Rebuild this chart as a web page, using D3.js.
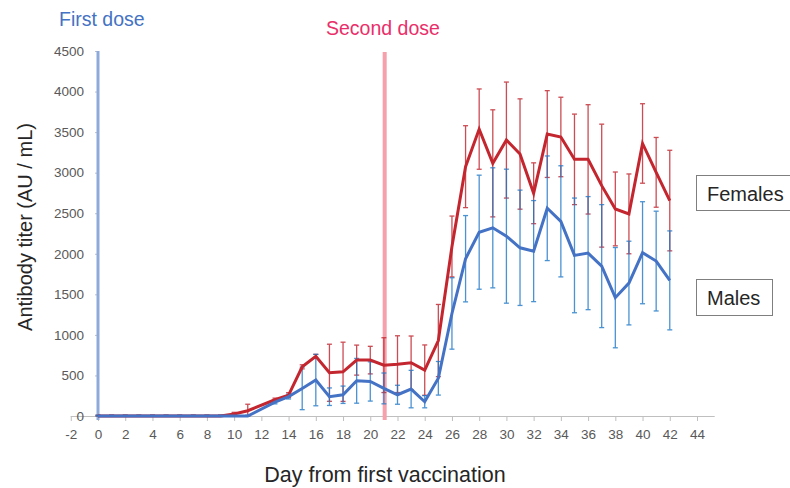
<!DOCTYPE html>
<html>
<head>
<meta charset="utf-8">
<script src="https://cdn.jsdelivr.net/npm/d3@7"></script>
<style>
	body { margin: 0; background: #fff; }
	svg { font-family: "Liberation Sans", Arial, sans-serif; display: block; }
</style>
</head>
<body>
<div id="chart"></div>
<script>
'use strict';

// Days sampled after the first vaccination
var days = [0, 1, 2, 3, 4, 5, 6, 7, 8, 9, 10, 11, 13, 14, 15, 16, 17, 18, 19, 20,
	21, 22, 23, 24, 25, 26, 27, 28, 29, 30, 31, 32, 33, 34, 35, 36, 37, 38, 39, 40, 41, 42];

// Mean antibody titer (AU / mL) and error bar size, females
var female_mean = [0, 0, 0, 0, 0, 0, 0, 0, 0, 0, 25, 65, 200, 258, 606, 735, 533, 545, 689, 689,
	627, 639, 656, 566, 930, 2090, 3074, 3537, 3115, 3402, 3230, 2746, 3476, 3440, 3164, 3164,
	2840, 2553, 2492, 3360, 3004, 2656];
var female_err = [10, 10, 10, 10, 10, 10, 10, 10, 10, 10, 20, 80, 20, 30, 25, 25, 352, 365, 185, 170,
	338, 350, 330, 310, 445, 375, 505, 495, 660, 715, 680, 375, 535, 490, 558, 674,
	758, 455, 492, 490, 430, 620];

// Males
var male_mean = [0, 0, 0, 0, 0, 0, 0, 0, 0, 0, 0, 0, 170, 240, 340, 443, 238, 262, 434, 426,
	340, 262, 332, 176, 465, 1264, 1939, 2266, 2320, 2217, 2074, 2033, 2561, 2400, 1980, 2008,
	1848, 1459, 1639, 2013, 1910, 1672];
var male_err = [10, 10, 10, 10, 10, 10, 10, 10, 10, 10, 10, 10, 20, 30, 262, 317, 108, 107, 276, 242,
	190, 117, 231, 75, 207, 440, 532, 703, 740, 826, 711, 623, 645, 685, 707, 697,
	758, 618, 516, 629, 615, 610];

var x_ticks = d3.range(-2, 45, 2);
var y_ticks = d3.range(0, 4501, 500);
var first_dose_day = 0;
var second_dose_day = 21;

var width = 790;
var height = 488;

var x_scale = d3.scaleLinear().domain([0, 44]).range([98, 697]);
var y_scale = d3.scaleLinear().domain([0, 4500]).range([416, 51]);

// plain numbers with a hyphen minus, like the original
var fmt = function(d) { return String(d); };

var svg = d3.select("#chart").append("svg")
	.attr("width", width)
	.attr("height", height);

function make_series(means, errs) {
	return days.map(function(d, i) {
		return { day: d, v: means[i], e: errs[i] };
	});
}

var females = make_series(female_mean, female_err);
var males = make_series(male_mean, male_err);

// x axis: line from -2 to a bit past 44, ticks every 2 days
var x_axis = svg.append("g")
	.attr("transform", "translate(0," + y_scale(0) + ")")
	.call(d3.axisBottom(x_scale).tickValues(x_ticks).tickFormat(fmt).tickSize(5).tickPadding(8));
x_axis.select(".domain").remove();
x_axis.selectAll(".tick line").attr("stroke", "#bfbfbf");
x_axis.selectAll(".tick text")
	.attr("fill", "#595959")
	.style("font-size", "13.5px")
	.style("font-family", "'Liberation Sans', Arial, sans-serif");
svg.append("line")
	.attr("x1", x_scale(-2))
	.attr("x2", x_scale(45.3))
	.attr("y1", y_scale(0) + 0.5)
	.attr("y2", y_scale(0) + 0.5)
	.style("stroke", "#bfbfbf")
	.style("stroke-width", 1);

var y_axis = svg.append("g")
	.attr("transform", "translate(" + x_scale(0) + ",0)")
	.call(d3.axisLeft(y_scale).tickValues(y_ticks).tickFormat(fmt).tickSize(3).tickPadding(11));
y_axis.select(".domain").remove();
y_axis.selectAll(".tick line").attr("stroke", "#bfbfbf");
y_axis.selectAll(".tick text")
	.attr("fill", "#595959")
	.style("font-size", "13.5px")
	.style("font-family", "'Liberation Sans', Arial, sans-serif");

// dose markers
svg.append("line")
	.attr("x1", x_scale(first_dose_day))
	.attr("x2", x_scale(first_dose_day))
	.attr("y1", y_scale(4500))
	.attr("y2", y_scale(0) + 4)
	.style("stroke", "#8eaadb")
	.style("stroke-width", 3);

svg.append("line")
	.attr("x1", x_scale(second_dose_day) + 0.8)
	.attr("x2", x_scale(second_dose_day) + 0.8)
	.attr("y1", y_scale(4500) + 1)
	.attr("y2", y_scale(0) + 4)
	.style("stroke", "#f5a0aa")
	.style("stroke-width", 4);

svg.append("text")
	.attr("x", 59)
	.attr("y", 26)
	.style("font-size", "19.5px")
	.style("fill", "#4472c4")
	.text("First dose");

svg.append("text")
	.attr("x", 326)
	.attr("y", 35)
	.style("font-size", "19.5px")
	.style("fill", "#ea2e6a")
	.text("Second dose");

function draw_error_bars(data, color) {
	var g = svg.append("g")
		.style("stroke", color)
		.style("stroke-width", 1.3)
		.style("opacity", 0.8);

	data.forEach(function(d) {
		var cx = x_scale(d.day);
		var top = y_scale(d.v + d.e);
		var bottom = y_scale(Math.max(0, d.v - d.e));

		g.append("line")
			.attr("x1", cx).attr("x2", cx)
			.attr("y1", top).attr("y2", bottom);
		g.append("line")
			.attr("x1", cx - 2.5).attr("x2", cx + 2.5)
			.attr("y1", top).attr("y2", top);
		g.append("line")
			.attr("x1", cx - 2.5).attr("x2", cx + 2.5)
			.attr("y1", bottom).attr("y2", bottom);
	});
}

draw_error_bars(females, "#c0202a");
draw_error_bars(males, "#1e78c8");

var line = d3.line()
	.x(function(d) { return x_scale(d.day); })
	.y(function(d) { return y_scale(d.v); });

svg.append("path")
	.datum(females)
	.attr("d", line)
	.style("fill", "none")
	.style("stroke", "#c3262e")
	.style("stroke-width", 3);

svg.append("path")
	.datum(males)
	.attr("d", line)
	.style("fill", "none")
	.style("stroke", "#4472c4")
	.style("stroke-width", 3);

// axis titles
svg.append("text")
	.attr("transform", "translate(32," + 227 + ") rotate(-90)")
	.attr("text-anchor", "middle")
	.style("font-size", "20px")
	.style("fill", "#262626")
	.text("Antibody titer (AU / mL)");

svg.append("text")
	.attr("x", 385)
	.attr("y", 482)
	.attr("text-anchor", "middle")
	.style("font-size", "21.5px")
	.style("fill", "#262626")
	.text("Day from first vaccination");

// series labels in boxes
var labels = [
	{ text: "Females", x: 696.5, y: 175.5, w: 100, h: 35 },
	{ text: "Males", x: 696.5, y: 279.5, w: 76, h: 36 }
];

labels.forEach(function(l) {
	svg.append("rect")
		.attr("x", l.x)
		.attr("y", l.y)
		.attr("width", l.w)
		.attr("height", l.h)
		.style("fill", "#fff")
		.style("stroke", "#7f7f7f")
		.style("stroke-width", 1);

	svg.append("text")
		.attr("x", l.x + 10.5)
		.attr("y", l.y + 25)
		.style("font-size", "20px")
		.style("fill", "#262626")
		.text(l.text);
});
</script>
</body>
</html>
